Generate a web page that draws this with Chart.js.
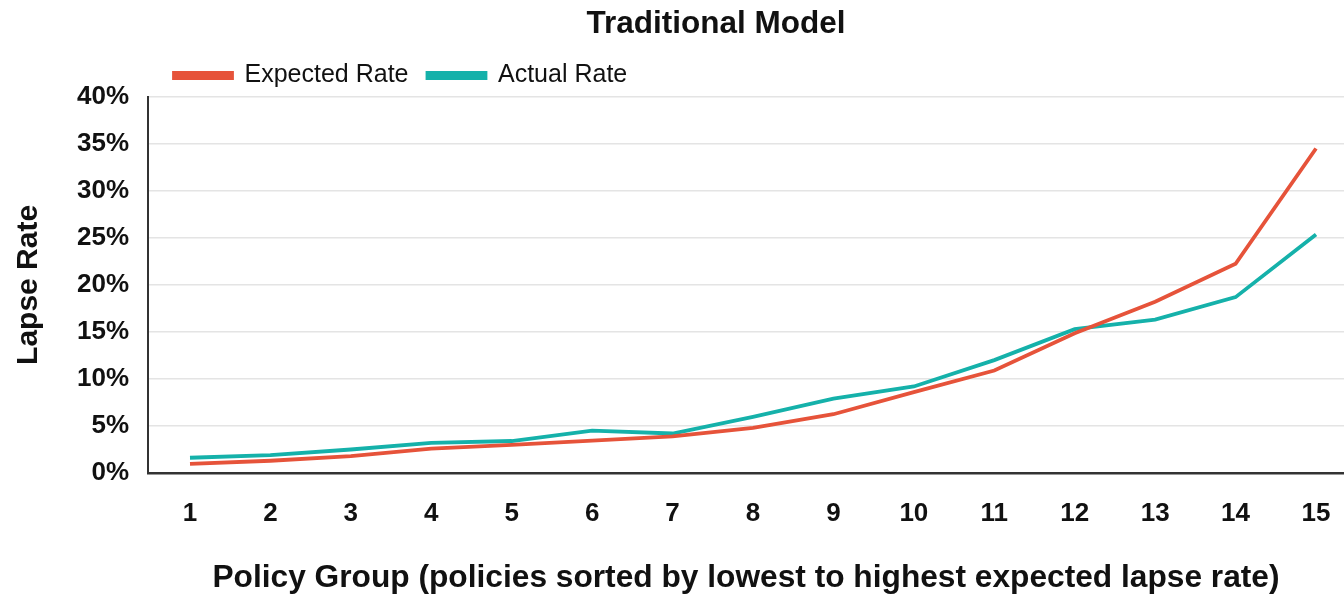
<!DOCTYPE html>
<html>
<head>
<meta charset="utf-8">
<script src="https://cdn.jsdelivr.net/npm/chart.js@4.4.1/dist/chart.umd.min.js"></script>
<style>
html,body{margin:0;padding:0;background:#fff;}
#wrap{width:1344px;height:598px;}
</style>
</head>
<body>
<div id="wrap"><canvas id="c" width="1344" height="598"></canvas></div>
<script>
const categories = [1,2,3,4,5,6,7,8,9,10,11,12,13,14,15];
const expectedRate = [0.97,1.3,1.8,2.6,3.0,3.45,3.9,4.8,6.25,8.6,10.9,14.85,18.2,22.25,34.5];
const actualRate = [1.62,1.9,2.5,3.2,3.4,4.5,4.2,5.97,7.9,9.2,12.0,15.3,16.3,18.7,25.35];
const yTicks = [0,5,10,15,20,25,30,35,40];

const RED = '#E6533A';
const TEAL = '#15B1AA';
const FONT = '"Liberation Sans", Arial, sans-serif';
const INK = '#111111';

const placeBlocks = {
  id: 'placeBlocks',
  beforeLayout(chart){
    const lg = chart.legend;
    if (lg && !lg._wrappedFit){
      const f = lg.fit;
      lg.fit = function(){ f.call(this); this.height = 54; };
      lg._wrappedFit = true;
    }
  },
  afterLayout(chart){
    const lg = chart.legend;
    if (lg){ lg.left = 155; lg.top = 44; }
    const tb = chart.titleBlock;
    if (tb){ tb.left += 44; tb.right += 44; }
  }
};

new Chart(document.getElementById('c'), {
  type: 'line',
  data: {
    datasets: [
      { label: 'Expected Rate', data: categories.map((c,i)=>({x:c,y:expectedRate[i]})),
        borderColor: RED, backgroundColor: RED, borderWidth: 3.8, pointRadius: 0, tension: 0 },
      { label: 'Actual Rate', data: categories.map((c,i)=>({x:c,y:actualRate[i]})),
        borderColor: TEAL, backgroundColor: TEAL, borderWidth: 3.8, pointRadius: 0, tension: 0 }
    ]
  },
  options: {
    responsive: false,
    animation: false,
    devicePixelRatio: 1,
    layout: { padding: 0 },
    plugins: {
      title: { display: true, text: 'Traditional Model', color: INK,
        font: { family: FONT, size: 31.5, weight: 'bold', lineHeight: 1.2 }, padding: { top: 5, bottom: 0 } },
      legend: { display: true, position: 'top', align: 'start',
        labels: { color: INK, boxWidth: 58, boxHeight: 5, padding: 19,
          font: { family: FONT, size: 25, lineHeight: 1.2 } } },
      tooltip: { enabled: false }
    },
    scales: {
      x: {
        type: 'linear', min: 0.478, max: 15.348,
        afterBuildTicks(axis){ axis.ticks = categories.map(v=>({value:v})); },
        afterFit(scale){ scale.height = 125; scale.paddingLeft = 0; scale.paddingRight = 0; },
        grid: { display: false, drawTicks: false },
        border: { display: true, color: '#333', width: 2.5 },
        ticks: { color: INK, padding: 25, maxRotation: 0, autoSkip: false,
          font: { family: FONT, size: 26, weight: 'bold', lineHeight: 1.2 } },
        title: { display: true, text: 'Policy Group (policies sorted by lowest to highest expected lapse rate)',
          color: INK, font: { family: FONT, size: 31.7, weight: 'bold', lineHeight: 1.2 }, padding: { top: 0, bottom: 1 } }
      },
      y: {
        min: 0, max: 40,
        afterBuildTicks(axis){ axis.ticks = yTicks.map(v=>({value:v})); },
        afterFit(scale){ scale.width = 148; scale.paddingTop = 0; scale.paddingBottom = 0; },
        grid: { color: '#e4e4e4', lineWidth: 1.5, drawTicks: false },
        border: { display: true, color: '#333', width: 2 },
        ticks: { color: INK, padding: 19, callback: v => v + '%',
          font: { family: FONT, size: 26, weight: 'bold', lineHeight: 1.2 } },
        title: { display: true, text: 'Lapse Rate', color: INK,
          font: { family: FONT, size: 30, weight: 'bold', lineHeight: 1.2 }, padding: { top: 11, bottom: 0 } }
      }
    }
  },
  plugins: [placeBlocks]
});
</script>
</body>
</html>
